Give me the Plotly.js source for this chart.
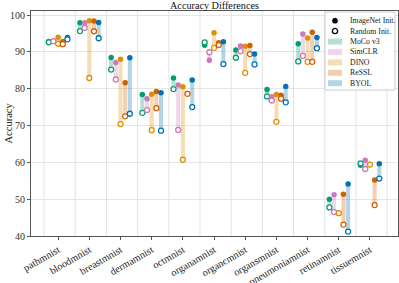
<!DOCTYPE html>
<html>
<head>
<meta charset="utf-8">
<script src="https://cdn.plot.ly/plotly-3.0.1.min.js"></script>
<style>html,body{margin:0;padding:0;background:#fff;}#chart{width:399px;height:283px;}</style>
</head>
<body>
<div id="chart"></div>
<script>
// ---- data ----
const datasets = ['pathmnist','bloodmnist','breastmnist','dermamnist','octmnist','organamnist','organcmnist','organsmnist','pneumoniamnist','retinamnist','tissuemnist'];
const methods = ['MoCo v3','SimCLR','DINO','ReSSL','BYOL'];
const colors = ['#029e73','#cc78bc','#de8f05','#d55e00','#0173b2'];

const mocoImageNet   = [92.8, 97.9, 88.5, 78.45, 82.9, 91.8, 90.5, 79.8, 92.2, 50.0, 59.2];
const mocoRandom     = [92.6, 95.65, 85.2, 73.45, 79.9, 92.6, 88.4, 77.9, 87.4, 47.75, 59.7];
const simclrImageNet = [92.9, 97.9, 87.1, 77.3, 81.0, 87.7, 91.6, 77.8, 94.85, 51.2, 60.6];
const simclrRandom   = [92.9, 96.5, 82.5, 74.2, 68.8, 89.9, 90.2, 76.8, 88.9, 46.5, 58.2];
const dinoImageNet   = [94.0, 98.45, 88.0, 78.5, 80.5, 95.2, 91.5, 78.45, 93.8, 46.2, 59.4];
const dinoRandom     = [92.2, 82.9, 70.4, 68.75, 60.7, 91.1, 84.3, 71.0, 87.3, 46.2, 59.4];
const resslImageNet  = [92.8, 98.4, 81.6, 79.25, 78.7, 92.5, 91.75, 78.2, 95.3, 51.35, 55.2];
const resslRandom    = [92.1, 95.6, 72.5, 74.7, 78.6, 91.85, 89.4, 77.3, 87.3, 43.1, 48.4];
const byolImageNet   = [93.9, 98.0, 88.4, 78.9, 82.35, 92.75, 89.4, 80.6, 93.9, 54.1, 59.6];
const byolRandom     = [93.4, 93.7, 73.2, 68.6, 75.0, 86.7, 86.6, 76.3, 91.0, 41.2, 55.6];

const imagenetVals = [mocoImageNet, simclrImageNet, dinoImageNet, resslImageNet, byolImageNet];
const randomVals   = [mocoRandom, simclrRandom, dinoRandom, resslRandom, byolRandom];
const yTicks = [40, 50, 60, 70, 80, 90, 100];

// ---- layout helpers ----
const W = 399, H = 283;
const L = 31, R = 398, T = 11, B = 236;
const px = x => (x - L) / (R - L);
const py = y => (B - y) / (B - T);
const offsets = [-0.3, -0.15, 0, 0.15, 0.3];
const FONT = "'Liberation Serif', 'Times New Roman', serif";

function rgba(hex, a) {
  const n = parseInt(hex.slice(1), 16);
  return `rgba(${(n>>16)&255},${(n>>8)&255},${n&255},${a})`;
}

const traces = [];
methods.forEach((m, j) => {
  const xs = datasets.map((d, i) => i + offsets[j]);
  traces.push({
    type: 'bar', x: xs,
    base: randomVals[j],
    y: imagenetVals[j].map((v, i) => v - randomVals[j][i]),
    width: 0.13,
    marker: {color: rgba(colors[j], 0.3), line: {width: 0}},
    showlegend: false, hoverinfo: 'skip'
  });
});
methods.forEach((m, j) => {
  const xs = datasets.map((d, i) => i + offsets[j]);
  traces.push({
    type: 'scatter', mode: 'markers', x: xs, y: imagenetVals[j],
    marker: {color: colors[j], size: 5.5, line: {width: 0}},
    showlegend: false, cliponaxis: false
  });
  traces.push({
    type: 'scatter', mode: 'markers', x: xs, y: randomVals[j],
    marker: {color: '#ffffff', size: 5, line: {color: colors[j], width: 1.3}},
    showlegend: false, cliponaxis: false
  });
});

const shapes = [];
for (let i = 0; i <= datasets.length; i++) {
  shapes.push({type: 'line', xref: 'x', yref: 'paper', x0: i - 0.45, x1: i - 0.45, y0: 0, y1: 1,
    line: {color: '#e3e3e3', width: 1}, layer: 'below'});
}
// legend box
shapes.push({type: 'rect', xref: 'paper', yref: 'paper', x0: px(325), x1: px(395), y0: py(90), y1: py(12),
  line: {color: '#cccccc', width: 1}, fillcolor: 'rgba(255,255,255,0.85)', layer: 'above'});
// legend markers
const r = 2.6;
shapes.push({type: 'circle', xref: 'paper', yref: 'paper', x0: px(335 - r), x1: px(335 + r), y0: py(20.7 + r), y1: py(20.7 - r),
  fillcolor: '#000', line: {color: '#000', width: 0.5}, layer: 'above'});
shapes.push({type: 'circle', xref: 'paper', yref: 'paper', x0: px(335 - r), x1: px(335 + r), y0: py(31 + r), y1: py(31 - r),
  fillcolor: '#fff', line: {color: '#000', width: 1.3}, layer: 'above'});
const legendYs = [20.7, 31, 41.6, 52, 62.4, 72.8, 83.2];
methods.forEach((m, j) => {
  const cy = legendYs[j + 2];
  shapes.push({type: 'rect', xref: 'paper', yref: 'paper', x0: px(328), x1: px(342), y0: py(cy + 3), y1: py(cy - 3),
    fillcolor: rgba(colors[j], 0.3), line: {width: 0}, layer: 'above'});
});
const legendLabels = ['ImageNet Init.', 'Random Init.'].concat(methods);
const annotations = legendLabels.map((t, k) => ({
  text: t, xref: 'paper', yref: 'paper', x: px(347.5), y: py(legendYs[k]), xanchor: 'left', yanchor: 'middle',
  showarrow: false, font: {family: FONT, size: 7.8, color: '#222'}
}));
annotations.push({text: 'Accuracy', xref: 'paper', yref: 'paper', x: px(8), y: 0.5, textangle: -90,
  xanchor: 'center', yanchor: 'middle', showarrow: false, font: {family: FONT, size: 10.5, color: '#222'}});

const layout = {
  width: W, height: H,
  margin: {l: L, r: W - R, t: T, b: H - B, pad: 0},
  paper_bgcolor: '#fff', plot_bgcolor: '#fff',
  title: {text: 'Accuracy Differences', x: 0.5375, xanchor: 'center', y: 1 - 5 / H, yanchor: 'middle',
    yref: 'container', font: {family: FONT, size: 10.2, color: '#111'}},
  barmode: 'overlay',
  showlegend: false,
  xaxis: {range: [-0.87, 10.9], tickvals: datasets.map((d, i) => i), ticktext: datasets,
    tickangle: -30, showgrid: false, zeroline: false, showline: true, mirror: true,
    linecolor: '#555', linewidth: 1, ticks: 'outside', ticklen: 3, tickcolor: '#555',
    tickfont: {family: FONT, size: 10.2, color: '#222'}},
  yaxis: {range: [40, 101.1], tickvals: yTicks, showgrid: true, gridcolor: '#e6e6e6', gridwidth: 1,
    zeroline: false, showline: true, mirror: true, linecolor: '#555', linewidth: 1,
    ticks: 'outside', ticklen: 3, tickcolor: '#555',
    tickfont: {family: FONT, size: 10, color: '#333'}},
  shapes: shapes,
  annotations: annotations
};

Plotly.newPlot('chart', traces, layout, {displayModeBar: false, staticPlot: true});
</script>
</body>
</html>
